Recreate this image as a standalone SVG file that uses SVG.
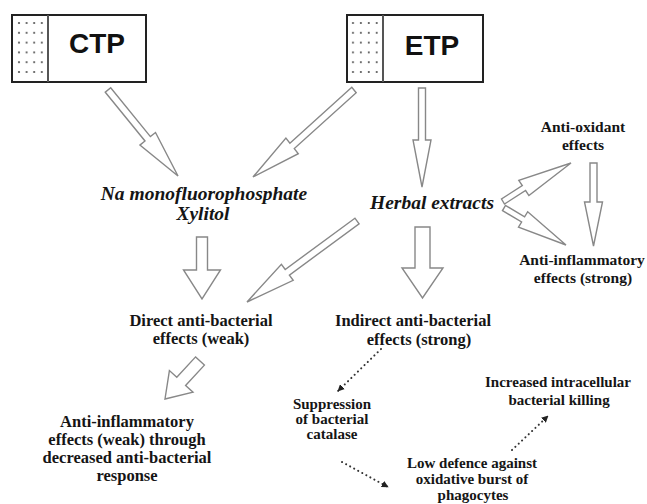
<svg xmlns="http://www.w3.org/2000/svg" width="647" height="504" viewBox="0 0 647 504">
<style>
.lbl{font-family:"Liberation Serif","Times New Roman",serif;font-weight:bold;fill:#151515;text-anchor:middle}
.big{font-family:"Liberation Sans",Arial,sans-serif;font-weight:bold;font-size:28px;fill:#111;text-anchor:middle}
.it{font-style:italic;font-size:19.5px}
.m{font-size:16.5px}
.r{font-size:15.5px}
.s{font-size:15px}
.box{fill:#fff;stroke:#222;stroke-width:2}
.div{stroke:#555;stroke-width:2}
.blk{fill:#fff;stroke:#888;stroke-width:1.4;stroke-linejoin:miter}
.dl{fill:none;stroke:#333;stroke-width:2;stroke-dasharray:0.1 4.5;stroke-linecap:round}
</style>
<defs>
<pattern id="dotsC" patternUnits="userSpaceOnUse" x="15.2" y="18.1" width="7.6" height="9.8"><circle cx="3.8" cy="4.9" r="1.1" fill="#555"/></pattern>
<pattern id="dotsE" patternUnits="userSpaceOnUse" x="349.2" y="18.1" width="7.9" height="9.8"><circle cx="3.8" cy="4.9" r="1.1" fill="#555"/></pattern>
<marker id="ah" viewBox="0 0 10 10" refX="9" refY="5" markerWidth="7" markerHeight="7" markerUnits="userSpaceOnUse" orient="auto"><path d="M0,0 L10,5 L0,10 z" fill="#222"/></marker>
</defs>

<g id="ctp">
<rect class="box" x="12" y="15" width="134" height="67"/>
<rect x="14" y="17" width="33" height="63" fill="url(#dotsC)"/>
<line class="div" x1="48" y1="15" x2="48" y2="82"/>
<text class="big" x="97" y="53">CTP</text>
</g>
<g id="etp">
<rect class="box" x="347" y="15" width="136" height="67"/>
<rect x="349" y="17" width="33" height="63" fill="url(#dotsE)"/>
<line class="div" x1="383" y1="15" x2="383" y2="82"/>
<text class="big" x="432" y="55">ETP</text>
</g>

<g id="na-xylitol">
<text class="lbl it" x="204" y="200">Na monofluorophosphate</text>
<text class="lbl it" x="203" y="220">Xylitol</text>
</g>
<g id="herbal">
<text class="lbl it" x="432" y="209">Herbal extracts</text>
</g>
<g id="antioxidant">
<text class="lbl r" x="583" y="132">Anti-oxidant</text>
<text class="lbl r" x="583" y="150">effects</text>
</g>
<g id="antiinflam-strong">
<text class="lbl r" x="582" y="265">Anti-inflammatory</text>
<text class="lbl r" x="583" y="283">effects (strong)</text>
</g>
<g id="direct">
<text class="lbl m" x="201" y="326">Direct anti-bacterial</text>
<text class="lbl m" x="201" y="344">effects (weak)</text>
</g>
<g id="indirect">
<text class="lbl m" x="413" y="326">Indirect anti-bacterial</text>
<text class="lbl m" x="419" y="345">effects (strong)</text>
</g>
<g id="antiinflam-weak">
<text class="lbl m" x="127" y="427">Anti-inflammatory</text>
<text class="lbl m" x="127" y="445">effects (weak) through</text>
<text class="lbl m" x="127" y="463">decreased anti-bacterial</text>
<text class="lbl m" x="127" y="481">response</text>
</g>
<g id="suppression">
<text class="lbl s" x="332" y="409">Suppression</text>
<text class="lbl s" x="332" y="424">of bacterial</text>
<text class="lbl s" x="332" y="439">catalase</text>
</g>
<g id="increased">
<text class="lbl s" x="558" y="387">Increased intracellular</text>
<text class="lbl s" x="559" y="405">bacterial killing</text>
</g>
<g id="lowdefence">
<text class="lbl s" x="472" y="468">Low defence against</text>
<text class="lbl s" x="472" y="484">oxidative burst of</text>
<text class="lbl s" x="473" y="500">phagocytes</text>
</g>

<g id="connectors">
<polygon class="blk" points="105.3,92.2 145.0,141.0 139.9,145.1 178,176 155.5,132.5 150.4,136.6 110.7,87.8"/>
<polygon class="blk" points="351.8,87.3 289.9,143.2 285.9,138.1 253,177 298.3,153.7 294.3,148.6 356.2,92.7"/>
<polygon class="blk" points="418.5,88 418.5,140 413,140 422,187 431,140 425.5,140 425.5,88"/>
<polygon class="blk" points="504.5,204 525.6,190.5 528.9,195.6 571,163 518.8,180.4 522.3,185.5 501.5,199"/>
<polygon class="blk" points="502.5,210.6 521.6,222.0 518.5,227.1 566,245 527.7,211.7 524.6,216.8 505.5,205.4"/>
<polygon class="blk" points="590,163 590,202 584.5,202 593.5,246 602.5,202 597,202 597,163"/>
<polygon class="blk" points="354.9,218.2 285.2,269.5 281.4,264.3 247,302 293.2,280.3 289.4,275.1 359.1,223.8"/>
<polygon class="blk" points="196.5,237 196.5,270 183.5,270 202,299 220.5,270 207.5,270 207.5,237"/>
<polygon class="blk" points="415,227 415,268 402,268 422.5,298 443,268 430,268 430,227"/>
<polygon class="blk" points="195.6,356.9 176.8,377.3 169.4,370.6 165,399 193.0,392.2 185.6,385.5 204.4,365.1"/>
<line class="dl" x1="381" y1="349" x2="338" y2="391" marker-end="url(#ah)"/>
<line class="dl" x1="342" y1="462" x2="388" y2="487" marker-end="url(#ah)"/>
<line class="dl" x1="512" y1="450" x2="548" y2="416" marker-end="url(#ah)"/>
</g>
</svg>
